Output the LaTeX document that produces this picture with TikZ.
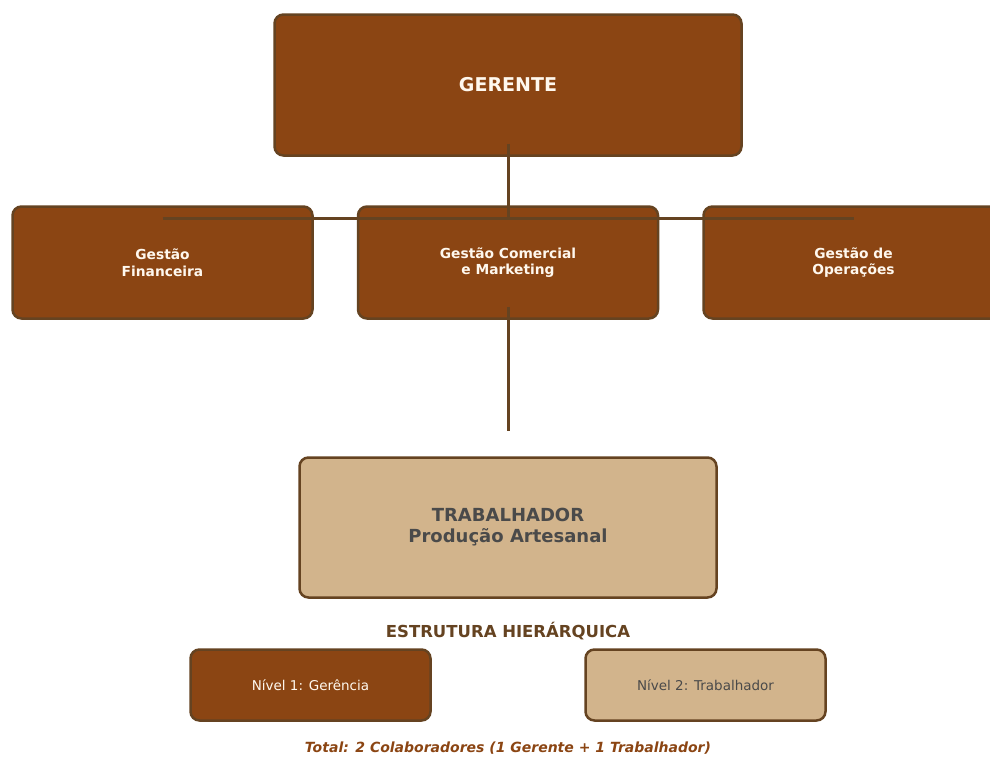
\documentclass[tikz,border=0pt]{standalone}
\usepackage{fontspec}
\setmainfont{DejaVu Sans}
\definecolor{brn}{HTML}{8B4513}
\definecolor{dbrn}{HTML}{654321}
\definecolor{tan}{HTML}{D2B48C}
\definecolor{txtg}{HTML}{4A4A4A}
\definecolor{cream}{HTML}{FFF8EE}
\tikzset{
  box/.style={draw=dbrn, line width=2.5pt, rounded corners=9pt, inner sep=0pt, align=center},
  mgr/.style={box, fill=brn, text=cream, font=\bfseries},
  wrk/.style={box, fill=tan, text=txtg, font=\bfseries},
  conn/.style={draw=dbrn, line width=3pt}
}
\begin{document}
\begin{tikzpicture}[x=1pt,y=-1pt]
\clip (0,0) rectangle (990,756);
\fill[white] (0,0) rectangle (990,756);
\node[mgr, minimum width=467pt, minimum height=141pt, font=\bfseries\fontsize{19}{22}\selectfont] (ger) at (508,85) {GERENTE};
\node[mgr, minimum width=300pt, minimum height=112pt, font=\bfseries\fontsize{13.8}{16.5}\selectfont] (fin) at (162.5,262.5) {Gestão\\Financeira};
\node[mgr, minimum width=300pt, minimum height=112pt, font=\bfseries\fontsize{13.8}{16.5}\selectfont] (com) at (508,262.5) {Gestão Comercial\\e Marketing};
\node[mgr, minimum width=300pt, minimum height=112pt, font=\bfseries\fontsize{13.8}{16.5}\selectfont] (ops) at (853.5,262.5) {Gestão de\\Operações};
\node[wrk, minimum width=417pt, minimum height=140pt, font=\bfseries\fontsize{18}{21}\selectfont] (trab) at (508,527.5) {TRABALHADOR\\Produção Artesanal};
\coordinate (j) at (508,218);
\draw[conn] ([yshift=13pt]ger.south) -- (j);
\draw[conn] (fin.north |- j) -- (ops.north |- j);
\draw[conn] ([yshift=13pt]com.south) -- ([yshift=25pt]trab.north);
\node[text=dbrn, font=\bfseries\fontsize{16.5}{20}\selectfont] (title) at (508,631) {ESTRUTURA HIERÁRQUICA};
\node[box, fill=brn, text=cream, minimum width=240pt, minimum height=71pt, font=\fontsize{13.5}{16}\selectfont] (l1) at (310.5,685) {Nível 1: Gerência};
\node[box, fill=tan, text=txtg, minimum width=240pt, minimum height=71pt, font=\fontsize{13.5}{16}\selectfont] (l2) at (705.5,685) {Nível 2: Trabalhador};
\node[text=brn, font=\bfseries\itshape\fontsize{14}{17}\selectfont] (tot) at (508,748) {Total: 2 Colaboradores (1 Gerente + 1 Trabalhador)};
\end{tikzpicture}
\end{document}
